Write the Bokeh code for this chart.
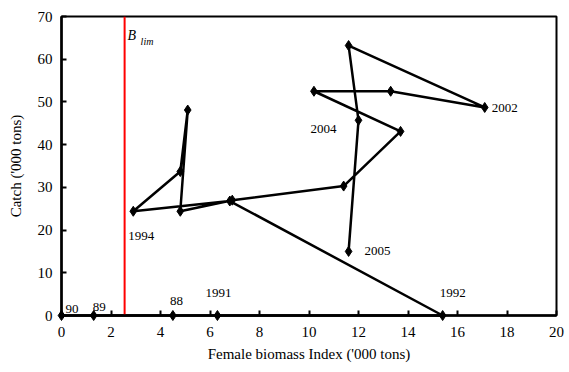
from bokeh.plotting import figure
from bokeh.models import Range1d, FixedTicker, Span, Label, ColumnDataSource
from bokeh.embed import file_html
from bokeh.resources import INLINE

# Stock trajectory: female biomass index vs catch (thousand tons), in path order
biomass = [4.5, 1.3, 0.0, 6.3, 15.4, 6.8, 2.9, 4.8, 5.1, 4.8, 6.9,
           11.4, 13.7, 10.2, 13.3, 17.1, 11.6, 12.0, 11.6]
catch = [0.0, 0.0, 0.0, 0.0, 0.0, 26.8, 24.4, 33.7, 48.1, 24.4, 27.0,
         30.3, 43.1, 52.5, 52.5, 48.7, 63.2, 45.7, 15.0]

# Year labels: text, index of the point it annotates, pixel offset from it
year_labels = ["90", "89", "88", "1991", "1992", "1994", "2002", "2004", "2005"]
year_points = [2, 1, 0, 3, 4, 6, 15, 17, 18]
year_dx = [4, -1, -3, -12, -3, -5, 7, -48, 16]
year_dy = [7, 9, 15, 23, 23, -25, -1, -9, 0]

b_lim = 2.55

x_ticks = list(range(0, 21, 2))
y_ticks = list(range(0, 71, 10))

FONT = '"Liberation Serif", "Times New Roman", serif'

p = figure(width=569, height=372, output_backend="svg", toolbar_location=None,
           x_range=Range1d(0, 20), y_range=Range1d(0, 70),
           min_border_left=61, min_border_right=13,
           min_border_top=16, min_border_bottom=57)

p.background_fill_color = "white"
p.border_fill_color = "white"
p.outline_line_color = "black"
p.outline_line_width = 2
p.grid.visible = False

for ax, ticks in ((p.xaxis[0], x_ticks), (p.yaxis[0], y_ticks)):
    ax.ticker = FixedTicker(ticks=ticks)
    ax.axis_line_color = "black"
    ax.axis_line_width = 2.5
    ax.major_tick_in = 5
    ax.major_tick_out = 0
    ax.major_tick_line_width = 2
    ax.minor_tick_line_color = None
    ax.major_label_text_font = FONT
    ax.major_label_text_font_size = "15px"
    ax.major_label_text_color = "black"
    ax.axis_label_text_font = FONT
    ax.axis_label_text_font_size = "15px"
    ax.axis_label_text_font_style = "normal"
    ax.axis_label_text_color = "black"

p.xaxis.axis_label = "Female biomass Index ('000 tons)"
p.yaxis.axis_label = "Catch ('000 tons)"
p.xaxis.major_label_standoff = 11
p.xaxis.axis_label_standoff = 6
p.yaxis.major_label_standoff = 9
p.yaxis.axis_label_standoff = 11

# Limit reference point
p.add_layout(Span(location=b_lim, dimension="height", line_color="#ff0000",
                  line_width=2))
p.add_layout(Label(x=b_lim, y=70, x_offset=3, y_offset=-26, text="B",
                   text_font=FONT, text_font_style="italic",
                   text_font_size="14px", text_color="black"))
p.add_layout(Label(x=b_lim, y=70, x_offset=16, y_offset=-30, text="lim",
                   text_font=FONT, text_font_style="italic",
                   text_font_size="10px", text_color="black"))

src = ColumnDataSource(dict(x=biomass, y=catch))
p.line("x", "y", source=src, line_color="black", line_width=2.5,
       level="overlay")
p.scatter("x", "y", source=src, marker="diamond", size=10,
          fill_color="black", line_color="black", level="overlay")

for txt, idx, dx, dy in zip(year_labels, year_points, year_dx, year_dy):
    p.add_layout(Label(x=biomass[idx], y=catch[idx], x_offset=dx, y_offset=dy,
                       text=txt, text_font=FONT, text_font_size="13px",
                       text_color="black", text_baseline="middle"))

open("out.html", "w").write(file_html(p, INLINE))
